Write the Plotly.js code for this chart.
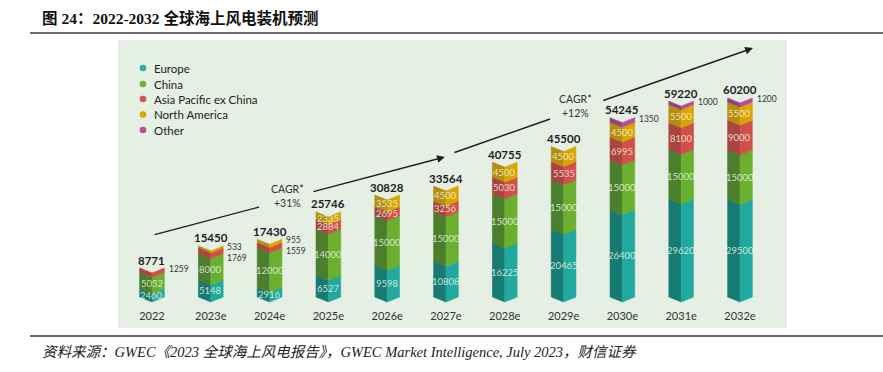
<!DOCTYPE html>
<html>
<head>
<meta charset="utf-8">
<script src="https://cdn.plot.ly/plotly-3.0.1.min.js"></script>
<style>
  html, body { margin: 0; padding: 0; background: #ffffff; }
  #chart { width: 883px; height: 372px; }
</style>
</head>
<body>
<div id="chart"></div>
<script>
// ---------------- DATA ----------------
const categories = ['2022', '2023e', '2024e', '2025e', '2026e', '2027e', '2028e', '2029e', '2030e', '2031e', '2032e'];
const europe = [2460, 5148, 2916, 6527, 9598, 10808, 16225, 20465, 26400, 29620, 29500];
const china = [5052, 8000, 12000, 14000, 15000, 15000, 15000, 15000, 15000, 15000, 15000];
const asiaPacific = [1259, 1769, 1559, 2884, 2695, 3256, 5030, 5535, 6995, 8100, 9000];
const northAmerica = [0, 533, 955, 2335, 3535, 4500, 4500, 4500, 4500, 5500, 5500];
const other = [0, 0, 0, 0, 0, 0, 0, 0, 1350, 1000, 1200];
const totals = [8771, 15450, 17430, 25746, 30828, 33564, 40755, 45500, 54245, 59220, 60200];
const seriesNames = ['Europe', 'China', 'Asia Pacific ex China', 'North America', 'Other'];
const cagrLabels = ['CAGR*<br>+31%', 'CAGR*<br>+12%'];
const titleText = '图 24：2022-2032 全球海上风电装机预测';
const sourceText = '资料来源：GWEC《2023 全球海上风电报告》，GWEC Market Intelligence, July 2023，财信证券';

// ---------------- STYLE ----------------
const seriesValues = [europe, china, asiaPacific, northAmerica, other];
const lightColors = ['#21A99F', '#6BAF2F', '#D1504A', '#D9A502', '#B44E9B'];
const darkColors = ['#177B73', '#4B7E2D', '#A9443F', '#B68D0E', '#94407F'];
const dotColors = ['#2BB0A5', '#70B437', '#D5544D', '#D9A600', '#B84D99'];
const halfW = 0.21;     // half bar width in category units
const dip = 1500;       // chevron dip in value units
const fontFam = 'Lato, "Open Sans", "Noto Sans", sans-serif';

const traces = [];
const annotations = [];

// stacked polygons (two faces) for each series
const bases = categories.map(() => 0);
const outsideQueue = categories.map(() => []);
seriesValues.forEach((vals, s) => {
  const lx = [], ly = [], rx = [], ry = [];
  vals.forEach((v, i) => {
    const b = bases[i];
    const t = b + v;
    if (v > 0) {
      lx.push(i - halfW, i, i, i - halfW, i - halfW, null);
      ly.push(b, b - dip, t - dip, t, b, null);
      rx.push(i, i + halfW, i + halfW, i, i, null);
      ry.push(b - dip, b, t, t - dip, b - dip, null);
      if (v >= 2000) {
        annotations.push({
          x: i, y: (b + t) / 2 - dip * 0.5, xref: 'x', yref: 'y',
          text: String(v), showarrow: false,
          font: { family: fontFam, size: 9.5, color: 'rgba(238,244,228,0.85)' }
        });
      } else {
        outsideQueue[i].unshift(v);
      }
    }
    bases[i] = t;
  });
  traces.push({
    type: 'scatter', mode: 'lines', x: lx, y: ly, fill: 'toself',
    fillcolor: darkColors[s], line: { width: 0.6, color: darkColors[s] },
    hoverinfo: 'skip', showlegend: false
  });
  traces.push({
    type: 'scatter', mode: 'lines', x: rx, y: ry, fill: 'toself',
    fillcolor: lightColors[s], line: { width: 0.6, color: lightColors[s] },
    hoverinfo: 'skip', showlegend: false
  });
});

// outside small labels (top-most first), one stacked text per bar
outsideQueue.forEach((list, i) => {
  if (!list.length) return;
  annotations.push({
    x: i + halfW + 0.04, y: totals[i], xref: 'x', yref: 'y',
    xanchor: 'left', yanchor: 'top', yshift: 6, align: 'left',
    text: list.map(String).join('<br>'), showarrow: false,
    font: { family: fontFam, size: 8.5, color: '#333333' }
  });
});

// totals
totals.forEach((tot, i) => {
  annotations.push({
    x: i, y: tot, xref: 'x', yref: 'y', yanchor: 'middle', yshift: 8,
    text: '<b>' + tot + '</b>', showarrow: false,
    font: { family: fontFam, size: 11.5, color: '#1e1e1e' }
  });
});

// CAGR trend arrows (decoration)
const arrowSegs = [
  [0.02, 18750, 1.82, 27200, 0],
  [2.72, 31760, 4.98, 42350, 2],
  [5.12, 43560, 6.77, 53840, 0],
  [7.65, 59290, 10.22, 75300, 2]
];
arrowSegs.forEach(a => {
  annotations.push({
    x: a[2], y: a[3], ax: a[0], ay: a[1], xref: 'x', yref: 'y', axref: 'x', ayref: 'y',
    text: '', showarrow: true, arrowhead: a[4], arrowsize: 1.1, arrowwidth: 1.4, arrowcolor: '#1e1e1e'
  });
});
annotations.push({
  x: 2.30, y: 30550, xref: 'x', yref: 'y', text: cagrLabels[0], showarrow: false,
  font: { family: fontFam, size: 10.5, color: '#333333' }, align: 'center'
});
annotations.push({
  x: 7.21, y: 57770, xref: 'x', yref: 'y', text: cagrLabels[1], showarrow: false,
  font: { family: fontFam, size: 10.5, color: '#333333' }, align: 'center'
});

// legend (manual, tight spacing)
const legendRowsPx = [68, 84, 99, 114.5, 130];
const shapes = [];
// panel background
shapes.push({ type: 'rect', xref: 'paper', yref: 'paper', x0: 0, x1: 1, y0: -0.0746, y1: 1,
  fillcolor: '#E5EFE4', line: { width: 0 }, layer: 'below' });
// rules
shapes.push({ type: 'line', xref: 'paper', yref: 'paper', x0: -0.1315, x1: 1.15, y0: 1.026, y1: 1.026,
  line: { color: '#3a3a3a', width: 1.6 } });
shapes.push({ type: 'line', xref: 'paper', yref: 'paper', x0: -0.1315, x1: 1.15, y0: -0.1045, y1: -0.1045,
  line: { color: '#3a3a3a', width: 1.6 } });

seriesNames.forEach((name, s) => {
  const py = (308 - legendRowsPx[s]) / 268;
  const cx = (143 - 118) / 669;
  const rx = 3.3 / 669, ry = 3.3 / 268;
  shapes.push({ type: 'circle', xref: 'paper', yref: 'paper',
    x0: cx - rx, x1: cx + rx, y0: py - ry, y1: py + ry,
    fillcolor: dotColors[s], line: { width: 0 } });
  annotations.push({
    x: (152 - 118) / 669, y: py, xref: 'paper', yref: 'paper', xanchor: 'left', yanchor: 'middle',
    text: name, showarrow: false, font: { family: fontFam, size: 11.5, color: '#222222' }
  });
});

// title & source
annotations.push({
  x: (40 - 118) / 669, y: (308 - 18) / 268, xref: 'paper', yref: 'paper', xanchor: 'left', yanchor: 'middle',
  text: '<b>' + titleText + '</b>', showarrow: false,
  font: { family: '"Liberation Serif", "Noto Sans CJK SC", serif', size: 15.5, color: '#111111' }
});
annotations.push({
  x: (40 - 118) / 669, y: (308 - 352) / 268, xref: 'paper', yref: 'paper', xanchor: 'left', yanchor: 'middle',
  text: '<i>' + sourceText + '</i>', showarrow: false,
  font: { family: '"Liberation Serif", "Noto Sans CJK SC", serif', size: 14.5, color: '#222222' }
});

const layout = {
  width: 883, height: 372,
  margin: { l: 118, r: 96, t: 40, b: 64 },
  paper_bgcolor: '#ffffff', plot_bgcolor: 'rgba(0,0,0,0)',
  showlegend: false,
  xaxis: {
    range: [-0.578, 10.8], tickvals: categories.map((c, i) => i), ticktext: categories,
    showgrid: false, zeroline: false, showline: false, ticks: '',
    tickfont: { family: fontFam, size: 11, color: '#333333' }, fixedrange: true
  },
  yaxis: { range: [-3327, 77740], visible: false, fixedrange: true },
  shapes: shapes,
  annotations: annotations
};

Plotly.newPlot('chart', traces, layout, { displayModeBar: false, staticPlot: true });
</script>
</body>
</html>
